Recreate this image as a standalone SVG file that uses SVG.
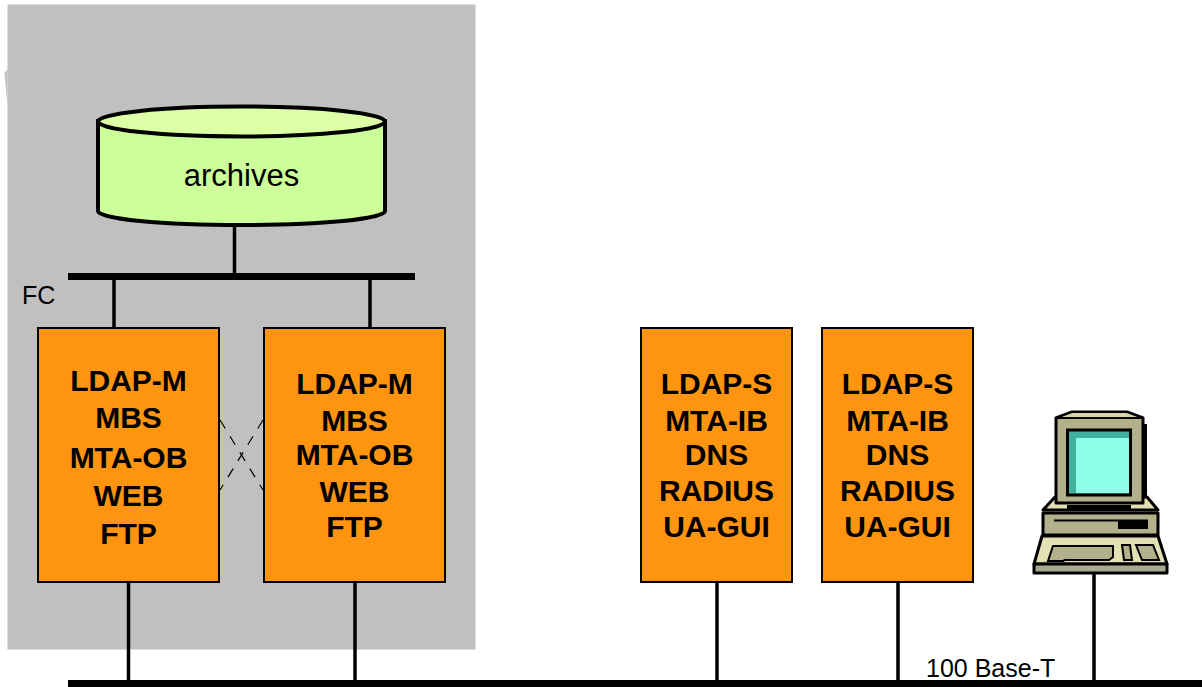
<svg xmlns="http://www.w3.org/2000/svg" width="1202" height="687" viewBox="0 0 1202 687">
<style>
.box{fill:#ff9410;stroke:#000;stroke-width:2}
.lbl{font:bold 30px "Liberation Sans",Arial,sans-serif;fill:#000;text-anchor:middle}
.t{font:25px "Liberation Sans",Arial,sans-serif;fill:#000}
.w{stroke:#000;stroke-width:3.5;fill:none}
.bus{stroke:#000;stroke-width:7;fill:none}
.dash{stroke:#000;stroke-width:1.2;stroke-dasharray:10 9;fill:none}
.pc{stroke:#000;stroke-width:3;stroke-linejoin:round}
</style>
<rect x="0" y="0" width="1202" height="687" fill="#fff"/>
<rect id="zone" x="7.500" y="4.500" width="468" height="645" fill="#c0c0c0"/>
<path d="M7.500 69 L4.500 73 L7.500 106 Z" fill="#c0c0c0"/>
<g id="connectors">
<path class="bus" d="M68 276.500H415"/>
<path class="bus" d="M68 683.500H1202"/>
<path class="w" d="M234.500 225V276M114 276V328M370 276V328M128.500 582V683M355 582V683M717 582V683M898 582V683M1094 573V683"/>
<path class="dash" d="M220 420L263 490M263 420L220 490"/>
</g>
<g id="archives">
<path d="M98 121V211C98 219 162 225 241.500 225S385 219 385 211V121Z" fill="#ccff99" stroke="#000" stroke-width="4"/>
<ellipse cx="241.500" cy="121.500" rx="143.500" cy2="0" ry="15" fill="#ddffa6" stroke="#000" stroke-width="4"/>
<text x="241.500" y="186" text-anchor="middle" style="font:31px 'Liberation Sans',Arial,sans-serif">archives</text>
</g>
<text class="t" x="22" y="304">FC</text>
<text class="t" x="926" y="677">100 Base-T</text>
<g id="srv1"><rect class="box" x="38" y="328" width="181" height="254"/>
<text class="lbl" x="128.500" y="391">LDAP-M</text><text class="lbl" x="128.500" y="428">MBS</text><text class="lbl" x="128.500" y="468">MTA-OB</text><text class="lbl" x="128.500" y="506">WEB</text><text class="lbl" x="128.500" y="544">FTP</text></g>
<g id="srv2"><rect class="box" x="264" y="328" width="181" height="254"/>
<text class="lbl" x="354.500" y="394">LDAP-M</text><text class="lbl" x="354.500" y="431">MBS</text><text class="lbl" x="354.500" y="465">MTA-OB</text><text class="lbl" x="354.500" y="502">WEB</text><text class="lbl" x="354.500" y="537">FTP</text></g>
<g id="srv3"><rect class="box" x="641" y="328" width="151" height="254"/>
<text class="lbl" x="716.500" y="394">LDAP-S</text><text class="lbl" x="716.500" y="431">MTA-IB</text><text class="lbl" x="716.500" y="465">DNS</text><text class="lbl" x="716.500" y="501">RADIUS</text><text class="lbl" x="716.500" y="537">UA-GUI</text></g>
<g id="srv4"><rect class="box" x="822" y="328" width="151" height="254"/>
<text class="lbl" x="897.500" y="394">LDAP-S</text><text class="lbl" x="897.500" y="431">MTA-IB</text><text class="lbl" x="897.500" y="465">DNS</text><text class="lbl" x="897.500" y="501">RADIUS</text><text class="lbl" x="897.500" y="537">UA-GUI</text></g>
<g id="computer">
<rect x="1062" y="424" width="85" height="84" fill="#000"/>
<path class="pc" d="M1043 510L1055 497H1147L1158 510Z" fill="#e3e0b4"/>
<path class="pc" d="M1043 513H1158V535H1043Z" fill="#b3b08c"/>
<path d="M1054 520.500H1148" stroke="#000" stroke-width="2"/>
<rect x="1118" y="520" width="30" height="9" fill="#000"/>
<path class="pc" d="M1042 536H1158L1167 564H1034Z" fill="#e3e0b4"/>
<path d="M1048 561L1053 546H1113V557L1109 560H1065L1063 561Z" fill="#b3b08c" stroke="#000" stroke-width="2"/>
<path d="M1122 545H1130L1132 560H1124Z" fill="#b3b08c" stroke="#000" stroke-width="2"/>
<path d="M1136 545H1153L1159 560H1142Z" fill="#b3b08c" stroke="#000" stroke-width="2"/>
<path class="pc" d="M1034 564H1167V573H1034Z" fill="#a9a98e"/>
<path d="M1067 507H1131" stroke="#000" stroke-width="4"/>
<path class="pc" d="M1056 418L1072 412H1127L1143 418V503H1056Z" fill="#b3b08c"/>
<path d="M1056 418L1072 412H1127L1143 418Z" fill="#d8d6a8" stroke="#000" stroke-width="2"/>
<rect x="1067.500" y="430" width="63" height="65" fill="#3fb3a0" stroke="#000" stroke-width="3"/>
<rect x="1076" y="438" width="53" height="55" fill="#8effe6"/>
</g>
</svg>
